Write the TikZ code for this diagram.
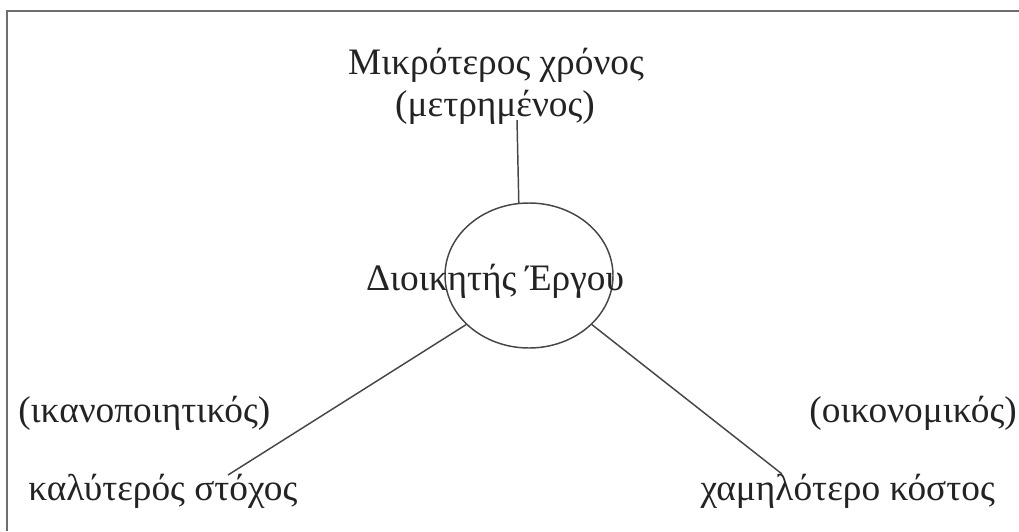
\documentclass[tikz,border=0pt]{standalone}
\usepackage{fontspec}
\setmainfont{Liberation Serif}
\usetikzlibrary{shapes.geometric}
\definecolor{framegray}{RGB}{110,110,110}
\definecolor{linegray}{RGB}{70,70,70}
\definecolor{textgray}{RGB}{35,35,35}
\tikzset{
  lbl/.style={inner sep=0pt, text=textgray, font=\fontsize{28}{32}\selectfont},
  conn/.style={draw=linegray, line width=1.1pt},
  hub/.style={ellipse, draw=linegray, line width=1.1pt, inner sep=0pt,
              minimum width=126pt, minimum height=108.75pt},
}
\begin{document}
\begin{tikzpicture}[x=0.75pt,y=-0.75pt]
\useasboundingbox (0,0) rectangle (1019,531);
% frame
\draw[framegray, line width=1.6pt] (7,531) -- (7,11) -- (1019,11);
% hub
\node[hub] (el) at (529,275.5) {};
\node[lbl, anchor=base] (hubtext) at (495,290) {Διοικητής Έργου};
% labels
\node[lbl, anchor=base] (time1) at (496,75) {Μικρότερος χρόνος};
\node[lbl, anchor=base] (time2) at (495,117) {(μετρημένος)};
\node[lbl, anchor=base west] (qual1) at (18,422) {(ικανοποιητικός)};
\node[lbl, anchor=base west] (qual2) at (28,500) {καλύτερός στόχος};
\node[lbl, anchor=base east] (cost1) at (1017,422) {(οικονομικός)};
\node[lbl, anchor=base east] (cost2) at (995,500) {χαμηλότερο κόστος};
% connector ends
\coordinate (topend) at (517,120);
\coordinate (leftend) at (228,475);
\coordinate (rightend) at (782,474);
\draw[conn] (el.98) -- (topend);
\draw[conn] (el.218) -- (leftend);
\draw[conn] (el.322) -- (rightend);
\end{tikzpicture}
\end{document}
